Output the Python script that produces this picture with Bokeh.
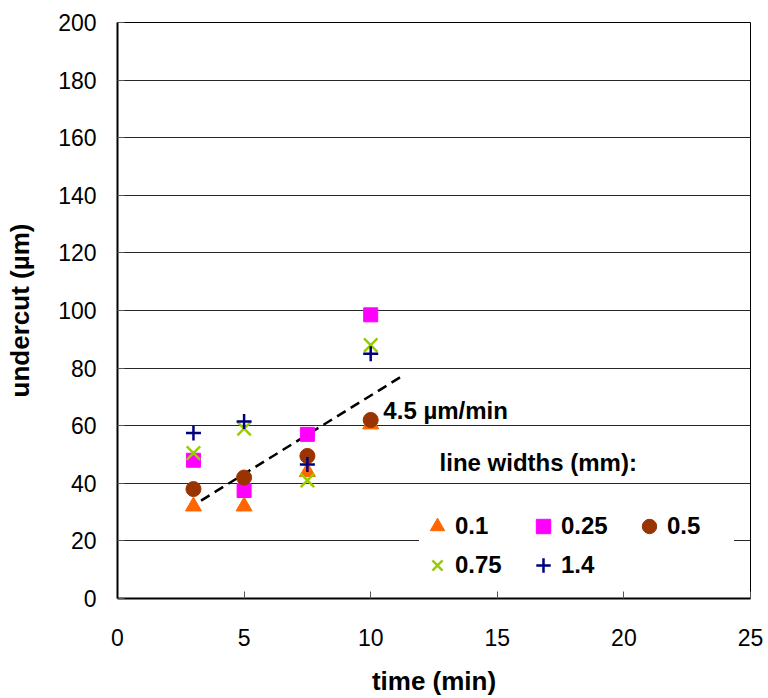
from bokeh.plotting import figure
from bokeh.models import Range1d, Legend, LegendItem, Label, FixedTicker, ColumnDataSource
from bokeh.embed import file_html
from bokeh.resources import INLINE

# data
time_min = [3, 5, 7.5, 10]
w_0_1 = [32, 32, 44, 60.5]
w_0_25 = [48, 37.5, 57, 98.5]
w_0_5 = [38, 42, 49.5, 62]
w_0_75 = [50.5, 59, 41, 88]
w_1_4 = [57.5, 61.5, 46.5, 85]
trend_x = [3.3, 11.2]
trend_y = [34, 77]
x_ticks = [0, 5, 10, 15, 20, 25]
y_ticks = [0, 20, 40, 60, 80, 100, 120, 140, 160, 180, 200]

FONT = "Liberation Sans"

p = figure(frame_width=633, frame_height=576, output_backend="svg", toolbar_location=None,
           x_range=Range1d(0, 25), y_range=Range1d(0, 200),
           min_border_left=117, min_border_top=22, min_border_right=18, min_border_bottom=100,
           background_fill_color="white", border_fill_color="white")

p.outline_line_color = "black"
p.outline_line_width = 1
p.xgrid.visible = False
p.ygrid.grid_line_color = "black"
p.ygrid.grid_line_width = 1
p.ygrid.grid_line_alpha = 0.85

for ax in (p.xaxis[0], p.yaxis[0]):
    ax.axis_line_color = "black"
    ax.axis_line_width = 2
    ax.major_tick_in = 7
    ax.major_tick_out = 0
    ax.major_tick_line_color = "#555555"
    ax.minor_tick_line_color = None
    ax.major_label_text_font = FONT
    ax.major_label_text_font_size = "23px"
    ax.major_label_text_color = "black"
    ax.axis_label_text_font = FONT
    ax.axis_label_text_font_size = "26px"
    ax.axis_label_text_font_style = "bold"
    ax.axis_label_text_color = "black"

p.xaxis.ticker = FixedTicker(ticks=x_ticks)
p.yaxis.ticker = FixedTicker(ticks=y_ticks)
p.xaxis.axis_label = "time (min)"
p.yaxis.axis_label = "undercut (\u00b5m)"
p.xaxis.major_label_standoff = 30
p.xaxis.axis_label_standoff = 17
p.yaxis.major_label_standoff = 21
p.yaxis.axis_label_standoff = 20

# trend line
p.line(trend_x, trend_y, line_color="black", line_width=2.5, line_dash="10 6")

src = ColumnDataSource(dict(t=time_min, a=w_0_1, b=w_0_25, c=w_0_5, d=w_0_75, e=w_1_4))
r1 = p.scatter("t", "a", source=src, marker="triangle", size=16, fill_color="#FF6600", line_color="#FF6600")
r2 = p.scatter("t", "b", source=src, marker="square", size=14, fill_color="#FF00FF", line_color="#FF00FF")
r3 = p.scatter("t", "c", source=src, marker="circle", size=15, fill_color="#993300", line_color="#993300")
r4 = p.scatter("t", "d", source=src, marker="x", size=19, line_color="#99CC00", line_width=2.5)
r5 = p.scatter("t", "e", source=src, marker="cross", size=15, line_color="#000080", line_width=2.5)

legend = Legend(items=[
    LegendItem(label="0.1", renderers=[r1]),
    LegendItem(label="0.25", renderers=[r2]),
    LegendItem(label="0.5", renderers=[r3]),
    LegendItem(label="0.75", renderers=[r4]),
    LegendItem(label="1.4", renderers=[r5]),
], orientation="horizontal", ncols=3, location=(302, 15))
legend.label_text_font = FONT
legend.label_text_font_size = "24px"
legend.label_text_font_style = "bold"
legend.label_text_color = "black"
legend.label_standoff = 0
legend.label_width = 67
legend.label_height = 36
legend.glyph_width = 36
legend.glyph_height = 36
legend.spacing = 3
legend.padding = 5
legend.margin = 0
legend.border_line_color = None
legend.background_fill_color = "white"
legend.background_fill_alpha = 1
p.add_layout(legend, "center")

p.add_layout(Label(x=10.5, y=65.3, text="4.5 \u00b5m/min", text_font=FONT, text_font_size="24px",
                   text_font_style="bold", text_color="black", text_baseline="middle"))
p.add_layout(Label(x=12.72, y=47.2, text="line widths (mm):", text_font=FONT, text_font_size="24px",
                   text_font_style="bold", text_color="black", text_baseline="middle"))

open("out.html", "w").write(file_html(p, INLINE))
